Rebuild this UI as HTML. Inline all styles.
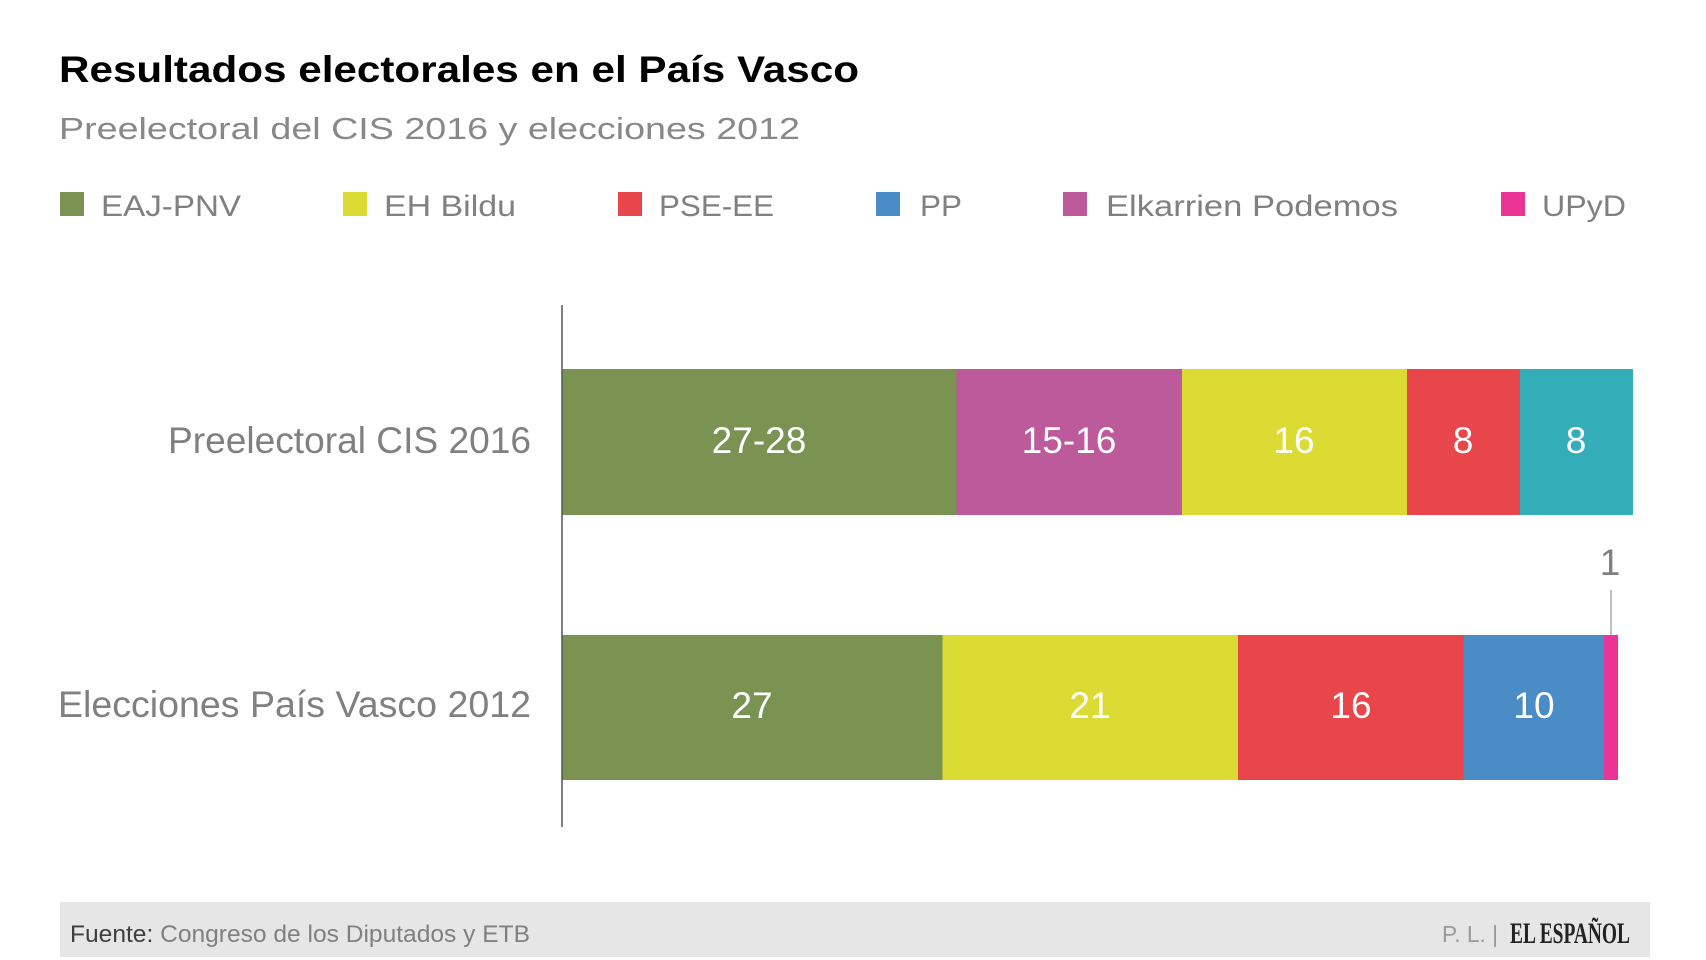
<!DOCTYPE html>
<html>
<head>
<meta charset="utf-8">
<style>
html,body{margin:0;padding:0;background:#fff;}
svg{display:block;}
text{font-family:"Liberation Sans",Arial,sans-serif;}
</style>
</head>
<body>
<svg width="1706" height="960" viewBox="0 0 1706 960" xmlns="http://www.w3.org/2000/svg">
  <rect x="0" y="0" width="1706" height="960" fill="#ffffff"/>

  <!-- Title -->
  <text x="59" y="82" font-size="37" font-weight="bold" fill="#000" textLength="800" lengthAdjust="spacingAndGlyphs">Resultados electorales en el País Vasco</text>
  <text x="59" y="139" font-size="31" fill="#888888" textLength="741" lengthAdjust="spacingAndGlyphs">Preelectoral del CIS 2016 y elecciones 2012</text>

  <!-- Legend -->
  <rect x="60" y="192" width="24" height="24" fill="#7a9353"/>
  <text x="101" y="216" font-size="30" fill="#808080" textLength="140" lengthAdjust="spacingAndGlyphs">EAJ-PNV</text>
  <rect x="343" y="192" width="24" height="24" fill="#dcdb33"/>
  <text x="384" y="216" font-size="30" fill="#808080" textLength="132" lengthAdjust="spacingAndGlyphs">EH Bildu</text>
  <rect x="618" y="192" width="24" height="24" fill="#e8464a"/>
  <text x="659" y="216" font-size="30" fill="#808080" textLength="115" lengthAdjust="spacingAndGlyphs">PSE-EE</text>
  <rect x="876" y="192" width="24" height="24" fill="#4a8cc6"/>
  <text x="920" y="216" font-size="30" fill="#808080" textLength="42" lengthAdjust="spacingAndGlyphs">PP</text>
  <rect x="1063" y="192" width="24" height="24" fill="#bd5a9b"/>
  <text x="1106" y="216" font-size="30" fill="#808080" textLength="292" lengthAdjust="spacingAndGlyphs">Elkarrien Podemos</text>
  <rect x="1501" y="192" width="24" height="24" fill="#ea3597"/>
  <text x="1542" y="216" font-size="30" fill="#808080" textLength="84" lengthAdjust="spacingAndGlyphs">UPyD</text>

  <!-- Category labels -->
  <text x="531" y="453" font-size="37" fill="#808080" text-anchor="end" textLength="363" lengthAdjust="spacingAndGlyphs">Preelectoral CIS 2016</text>
  <text x="531" y="717" font-size="37" fill="#808080" text-anchor="end" textLength="473" lengthAdjust="spacingAndGlyphs">Elecciones País Vasco 2012</text>

  <!-- Bar 2016 -->
  <rect x="562" y="369" width="394.5" height="146" fill="#7a9353"/>
  <rect x="956.5" y="369" width="225.5" height="146" fill="#bd5a9b"/>
  <rect x="1182" y="369" width="225" height="146" fill="#dcdb33"/>
  <rect x="1407" y="369" width="113" height="146" fill="#e8464a"/>
  <rect x="1520" y="369" width="113" height="146" fill="#33adb8"/>
  <text x="759" y="453" font-size="37" fill="#fff" text-anchor="middle">27-28</text>
  <text x="1069" y="453" font-size="37" fill="#fff" text-anchor="middle">15-16</text>
  <text x="1294" y="453" font-size="37" fill="#fff" text-anchor="middle">16</text>
  <text x="1463" y="453" font-size="37" fill="#fff" text-anchor="middle">8</text>
  <text x="1576" y="453" font-size="37" fill="#fff" text-anchor="middle">8</text>

  <!-- Bar 2012 -->
  <rect x="562" y="635" width="380.5" height="145" fill="#7a9353"/>
  <rect x="942.5" y="635" width="295.5" height="145" fill="#dcdb33"/>
  <rect x="1238" y="635" width="225.5" height="145" fill="#e8464a"/>
  <rect x="1463.5" y="635" width="140.5" height="145" fill="#4a8cc6"/>
  <rect x="1604" y="635" width="14" height="145" fill="#ea3597"/>
  <text x="752" y="718" font-size="37" fill="#fff" text-anchor="middle">27</text>
  <text x="1090" y="718" font-size="37" fill="#fff" text-anchor="middle">21</text>
  <text x="1351" y="718" font-size="37" fill="#fff" text-anchor="middle">16</text>
  <text x="1534" y="718" font-size="37" fill="#fff" text-anchor="middle">10</text>

  <!-- small label "1" -->
  <text x="1610" y="575" font-size="37" fill="#808080" text-anchor="middle">1</text>
  <line x1="1611" y1="590" x2="1611" y2="635" stroke="#aaaaaa" stroke-width="1.5"/>

  <!-- Axis -->
  <line x1="562" y1="305" x2="562" y2="827" stroke="#555555" stroke-width="1.5"/>

  <!-- Footer -->
  <rect x="60" y="902" width="1590" height="55" fill="#e6e6e6"/>
  <text x="70" y="942" font-size="24" fill="#808080" textLength="460" lengthAdjust="spacingAndGlyphs"><tspan fill="#3d3d3d">Fuente:</tspan> Congreso de los Diputados y ETB</text>
  <text x="1442" y="942" font-size="23" fill="#9a9a9a" textLength="56" lengthAdjust="spacingAndGlyphs">P. L. |</text>
  <text x="1510" y="943" font-size="30" font-weight="bold" fill="#222" style="font-family:'Liberation Serif',serif" textLength="120" lengthAdjust="spacingAndGlyphs">EL ESPAÑOL</text>
</svg>
</body>
</html>
